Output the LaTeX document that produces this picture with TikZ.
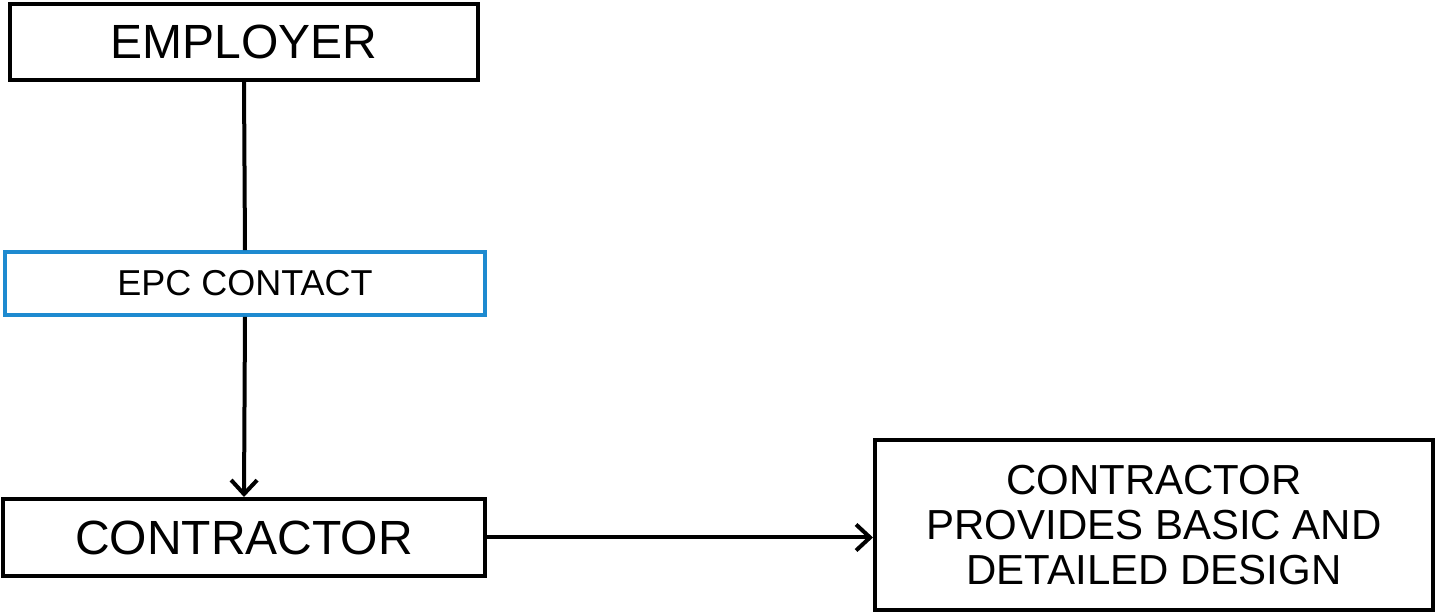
\documentclass[tikz,border=0pt]{standalone}
\usepackage{fontspec}
\setmainfont{Liberation Sans}
\usetikzlibrary{arrows.meta}
\definecolor{epcblue}{RGB}{30,138,208}
\tikzset{
  box/.style={draw=black, line width=2pt, fill=white, inner sep=0pt, align=center},
  bluebox/.style={draw=epcblue, line width=1.8pt, fill=white, inner sep=0pt, align=center},
  link/.style={line width=2pt, draw=black},
  arrowlink/.style={link, -{Straight Barb[length=7pt, width=13pt, line width=2pt]}}
}
\begin{document}
\begin{tikzpicture}[x=0.5pt, y=-0.5pt]
  \useasboundingbox (0,0) rectangle (1437,614);

  \node[box, minimum width=233.75pt, minimum height=38pt, font=\fontsize{24}{26}\selectfont]
    (emp) at (244,42) {EMPLOYER};
  \node[bluebox, minimum width=240pt, minimum height=31.5pt, font=\fontsize{18}{20}\selectfont]
    (epc) at (245,283.5) {EPC CONTACT};
  \node[box, minimum width=241pt, minimum height=38.5pt, font=\fontsize{24}{26}\selectfont]
    (con) at (244,537.5) {CONTRACTOR};
  \node[box, minimum width=279pt, minimum height=85pt, font=\fontsize{21}{22.5}\selectfont]
    (dsg) at (1154,525) {CONTRACTOR\\PROVIDES BASIC AND\\DETAILED DESIGN};

  \draw[link] (emp.south) -- (epc.north);
  \draw[arrowlink] (epc.south) -- (con.north);
  \draw[arrowlink] (con.east) -- (con.east -| dsg.west);
\end{tikzpicture}
\end{document}
